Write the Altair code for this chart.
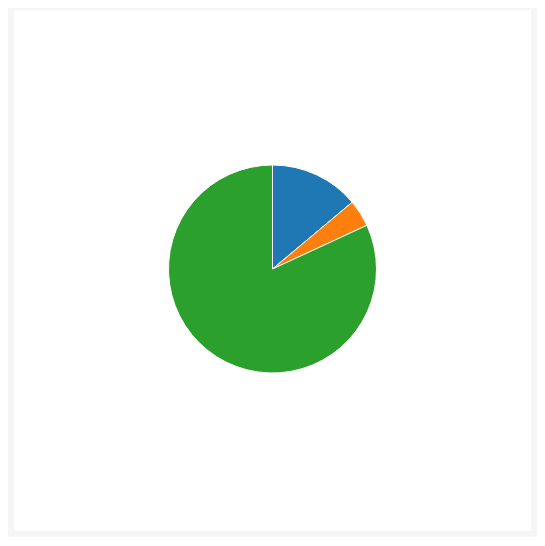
import altair as alt
import pandas as pd

categories = ["A", "B", "C"]
values = [13.9, 4.2, 81.9]
colors = ["#1f77b4", "#ff7f0e", "#2ca02c"]

df = pd.DataFrame({"category": categories, "value": values, "idx": [0, 1, 2]})

chart = (
    alt.Chart(df)
    .mark_arc(outerRadius=104, stroke="white", strokeWidth=1)
    .encode(
        theta=alt.Theta("value:Q", stack=True),
        color=alt.Color("category:N", scale=alt.Scale(domain=categories, range=colors), legend=None),
        order=alt.Order("idx:Q"),
        x=alt.value(258.5),
        y=alt.value(259),
    )
    .properties(
        width=517,
        height=521,
        background="#f5f5f5",
        padding={"left": 6, "top": 2, "right": 6, "bottom": 6},
        autosize=alt.AutoSizeParams(type="none"),
    )
    .configure_view(fill="white", stroke=None)
)

chart.save("out.html", embed_options={"renderer": "svg", "actions": False})
